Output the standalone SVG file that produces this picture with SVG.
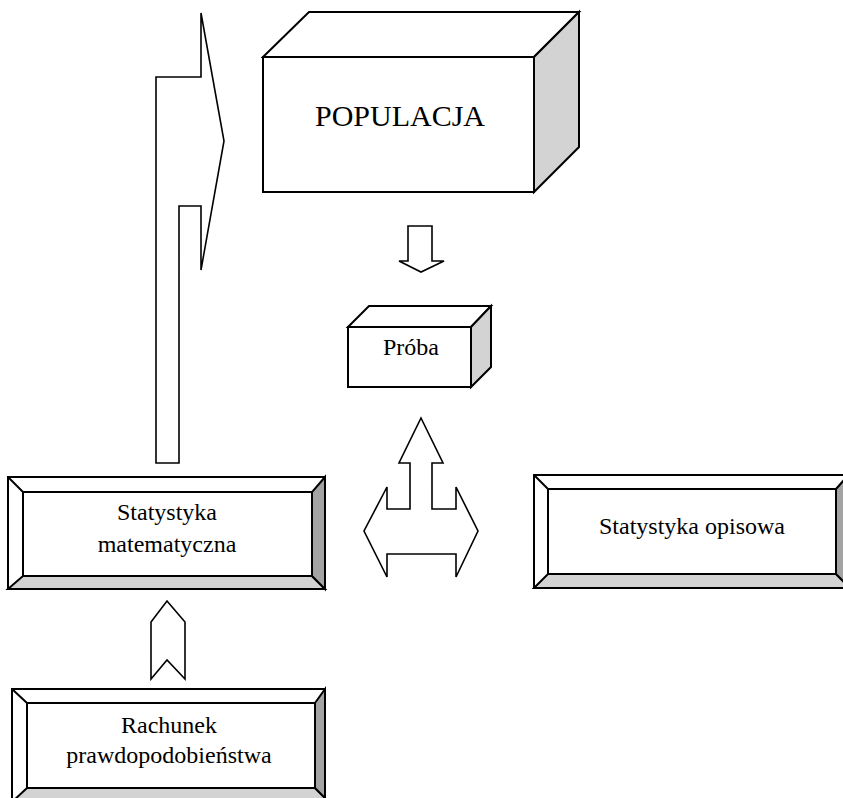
<svg xmlns="http://www.w3.org/2000/svg" width="843" height="798" viewBox="0 0 843 798">
<style>
.ln{stroke:#000;stroke-width:2;stroke-linejoin:miter;fill:#fff}
.lg{stroke:#000;stroke-width:2;fill:#d3d3d3}
.dg{stroke:#000;stroke-width:2;fill:#a3a3a3}
.ar{stroke:#000;stroke-width:1.6;fill:#fff;stroke-linejoin:miter}
.t{font-family:"Liberation Serif","Times New Roman",serif;font-size:24px;fill:#000;text-anchor:middle}
</style>
<rect width="843" height="798" fill="#fff"/>
<g id="connectors">
<polygon class="ar" points="156,463 156,77 201,77 201,13 224,141 201,270 201,206 179,206 179,463"/>
<polygon class="ar" points="408,226 432,226 432,261 444,261 421,272 399,261 408,261"/>
<polygon class="ar" points="421,418 443,463 432,463 432,509 456,509 456,487 478,531 456,577 456,554 387,554 387,577 364,531 387,487 387,509 410,509 410,463 399,463"/>
<polygon class="ar" points="167,601 185,622 185,679 167,660 151,679 151,622"/>
</g>
<g id="populacja">
<polygon class="ln" points="263,57 309,12 579,12 534,57"/>
<polygon class="lg" points="534,57 579,12 579,147 534,192"/>
<rect class="ln" x="263" y="57" width="271" height="135"/>
<text class="t" x="400" y="126" style="font-size:30px">POPULACJA</text>
</g>
<g id="proba">
<polygon class="ln" points="348,327 369,306 491,306 471,327"/>
<polygon class="lg" points="471,327 491,306 491,367 471,387"/>
<rect class="ln" x="348" y="327" width="123" height="60"/>
<text class="t" x="411" y="355">Próba</text>
</g>
<g id="stat-mat">
<rect class="ln" x="8" y="477" width="317" height="112"/>
<polygon class="lg" points="8,589 23,576 312,576 325,589"/>
<polygon class="dg" points="325,477 312,492 312,576 325,589"/>
<rect class="ln" x="23" y="492" width="289" height="84"/>
<line class="ln" x1="8" y1="477" x2="23" y2="492"/>
<text class="t" x="167" y="520">Statystyka</text>
<text class="t" x="167" y="552">matematyczna</text>
</g>
<g id="stat-opis">
<rect class="ln" x="534" y="475" width="310" height="113"/>
<polygon class="lg" points="534,588 548,574 836,574 844,582 844,588"/>
<polygon class="dg" points="844,480 836,489 836,574 844,582"/>
<rect class="ln" x="548" y="489" width="288" height="85"/>
<line class="ln" x1="534" y1="475" x2="548" y2="489"/>
<text class="t" x="692" y="534">Statystyka opisowa</text>
</g>
<g id="rachunek">
<rect class="ln" x="12" y="689" width="313" height="113"/>
<polygon class="lg" points="12,802 27,788 315,788 325,798 325,802"/>
<polygon class="dg" points="325,689 315,703 315,788 325,798"/>
<rect class="ln" x="27" y="703" width="288" height="85"/>
<line class="ln" x1="12" y1="689" x2="27" y2="703"/>
<text class="t" x="169" y="733">Rachunek</text>
<text class="t" x="169" y="763">prawdopodobieństwa</text>
</g>
</svg>
